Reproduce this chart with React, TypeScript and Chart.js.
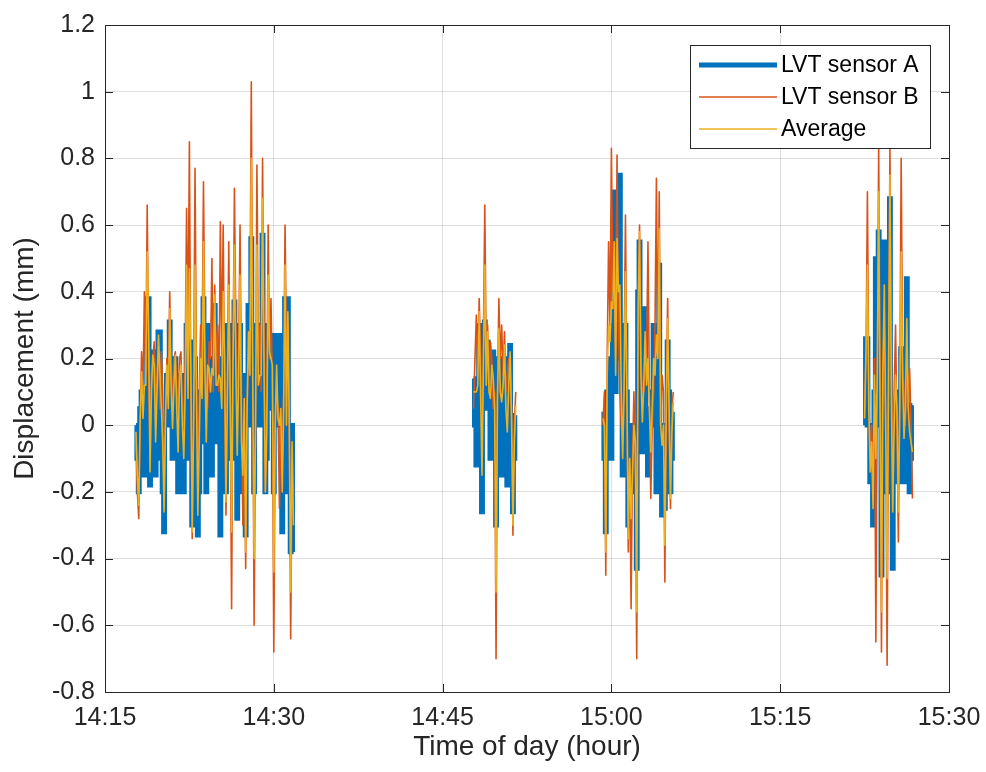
import React, { useEffect, useRef } from 'react';
import { Chart, registerables } from 'chart.js';

Chart.register(...registerables);

// Time axis: minutes after 14:15
const X_MIN = 0;
const X_MAX = 75;
const X_STEP = 15;
const X_TICK_LABELS = ['14:15', '14:30', '14:45', '15:00', '15:15', '15:30'];

const Y_MIN = -0.8;
const Y_MAX = 1.2;
const Y_STEP = 0.2;

// Sampling interval of the logger (minutes) and start of each recording burst
const SAMPLE_STEP_MIN = 0.125;
const burstStarts = [2.75, 32.75, 44.25, 67.5];

// Burst 1 (14:17:45 - 14:31:45)
const sensorA1 = [0.0, -0.1, -0.2, 0.05, 0.1, -0.05, -0.15, 0.1, 0.38, 0.38, -0.18, 0.05, 0.22, 0.1, -0.15, 0.05, 0.28, 0.28, -0.1, -0.2, -0.32, 0.0, 0.15, 0.0, 0.31, 0.1, -0.1, 0.05, 0.2, 0.0, -0.2, 0.1, 0.15, -0.05, -0.2, 0.0, 0.3, -0.1, 0.1, 0.25, -0.3, -0.1, 0.2, 0.05, -0.33, -0.2, 0.1, -0.05, 0.38, 0.1, -0.2, 0.3, 0.1, 0.0, -0.15, 0.2, 0.36, 0.1, -0.05, 0.2, -0.33, -0.1, 0.2, 0.3, -0.2, 0.0, 0.3, 0.15, -0.1, 0.2, 0.37, 0.05, -0.28, 0.1, 0.3, -0.2, 0.0, 0.15, -0.33, 0.05, 0.36, 0.0, 0.56, 0.1, -0.2, 0.0, 0.3, 0.05, 0.0, 0.2, 0.57, 0.1, -0.2, -0.1, 0.3, 0.25, 0.05, 0.27, -0.2, 0.0, 0.27, 0.0, 0.27, 0.1, -0.32, 0.0, 0.38, -0.2, 0.38, 0.0, -0.38, 0.0, -0.38];
const sensorB1 = [-0.05, -0.2, -0.28, 0.0, 0.22, 0.1, 0.4, 0.15, 0.66, 0.2, -0.1, 0.15, 0.2, 0.25, 0.05, 0.15, 0.26, 0.05, 0.22, 0.1, -0.2, 0.05, 0.2, 0.1, 0.4, 0.15, 0.08, 0.2, 0.22, 0.1, 0.05, 0.2, 0.22, 0.05, 0.0, 0.2, 0.65, 0.25, 0.85, 0.1, -0.34, 0.1, 0.77, 0.15, -0.2, 0.1, 0.3, 0.2, 0.73, 0.25, 0.1, 0.05, 0.25, 0.2, 0.5, 0.1, 0.42, 0.15, 0.3, 0.1, 0.61, 0.2, 0.6, 0.1, -0.27, 0.15, 0.55, 0.05, -0.55, 0.2, 0.71, 0.3, 0.1, 0.2, 0.6, 0.1, -0.3, 0.0, -0.43, 0.05, 0.2, 0.3, 1.03, 0.2, -0.6, 0.0, 0.78, 0.2, 0.3, 0.1, 0.8, 0.3, -0.2, 0.05, 0.6, 0.2, 0.38, 0.1, -0.68, 0.0, 0.1, 0.05, -0.25, 0.0, -0.1, 0.1, 0.6, 0.2, 0.3, 0.0, -0.64, -0.1, -0.2];
const average1 = [-0.02, -0.15, -0.24, 0.02, 0.16, 0.02, 0.12, 0.12, 0.52, 0.29, -0.14, 0.1, 0.21, 0.18, -0.05, 0.1, 0.27, 0.16, 0.06, -0.05, -0.26, 0.02, 0.18, 0.05, 0.35, 0.12, -0.01, 0.12, 0.21, 0.05, -0.08, 0.15, 0.18, 0.0, -0.1, 0.1, 0.48, 0.08, 0.47, 0.18, -0.32, 0.0, 0.48, 0.1, -0.27, -0.05, 0.2, 0.08, 0.55, 0.18, -0.05, 0.18, 0.17, 0.1, 0.17, 0.15, 0.39, 0.12, 0.12, 0.15, 0.14, 0.05, 0.4, 0.2, -0.23, 0.08, 0.42, 0.1, -0.32, 0.2, 0.54, 0.18, -0.09, 0.15, 0.45, -0.05, -0.15, 0.08, -0.38, 0.05, 0.28, 0.15, 0.8, 0.15, -0.4, 0.0, 0.54, 0.12, 0.15, 0.15, 0.68, 0.2, -0.2, -0.02, 0.45, 0.22, 0.2, 0.18, -0.44, 0.0, 0.18, 0.02, 0.0, 0.05, -0.2, 0.05, 0.48, 0.0, 0.34, 0.0, -0.5, -0.05, -0.3];

// Burst 2 (14:47:45 - 14:51:30)
const sensorA2 = [0.14, 0.0, -0.12, 0.1, 0.3, 0.0, -0.26, 0.1, 0.31, 0.05, 0.25, 0.1, -0.1, 0.15, 0.22, 0.0, -0.3, 0.05, 0.2, 0.0, -0.15, 0.1, 0.2, 0.0, -0.18, 0.05, 0.24, 0.0, -0.26, -0.1, 0.03];
const sensorB2 = [0.05, 0.2, 0.33, 0.15, 0.38, 0.2, -0.05, 0.25, 0.66, 0.2, 0.3, 0.1, 0.25, 0.2, 0.05, 0.1, -0.7, 0.1, 0.38, 0.2, 0.3, 0.15, 0.28, 0.1, 0.15, 0.2, 0.2, 0.05, -0.33, 0.0, 0.1];
const average2 = [0.1, 0.1, 0.1, 0.12, 0.34, 0.1, -0.15, 0.18, 0.48, 0.12, 0.28, 0.1, 0.08, 0.18, 0.14, 0.05, -0.5, 0.08, 0.29, 0.1, 0.07, 0.12, 0.24, 0.05, -0.02, 0.12, 0.22, 0.02, -0.3, -0.05, 0.06];

// Burst 3 (14:59:15 - 15:05:30)
const sensorA3 = [0.04, -0.1, -0.32, 0.1, 0.05, 0.2, -0.1, 0.3, 0.7, 0.1, 0.3, 0.5, 0.75, 0.2, -0.15, 0.0, 0.3, 0.1, -0.3, -0.1, 0.0, -0.2, -0.1, 0.0, -0.43, 0.4, 0.55, 0.1, -0.08, 0.15, 0.35, 0.05, -0.15, 0.0, 0.05, 0.1, 0.3, 0.0, -0.2, 0.2, 0.48, 0.0, -0.27, -0.1, -0.25, 0.0, 0.25, 0.1, -0.2, -0.1, 0.04];
const sensorB3 = [0.0, 0.1, -0.45, 0.2, 0.55, 0.3, 0.83, 0.4, 0.4, 0.2, 0.81, 0.3, 0.1, 0.0, -0.05, 0.2, 0.63, 0.1, -0.38, -0.1, -0.55, -0.1, 0.1, -0.1, -0.7, 0.3, 0.6, 0.2, 0.1, 0.1, 0.2, 0.2, 0.55, 0.1, -0.22, 0.0, 0.1, 0.3, 0.74, 0.2, 0.7, 0.0, 0.15, 0.1, -0.47, 0.1, 0.38, 0.0, -0.25, 0.05, 0.1];
const average3 = [0.02, 0.0, -0.38, 0.15, 0.3, 0.25, 0.37, 0.35, 0.55, 0.15, 0.56, 0.4, 0.42, 0.1, -0.1, 0.1, 0.46, 0.1, -0.34, -0.1, -0.28, -0.15, 0.0, -0.05, -0.56, 0.35, 0.58, 0.15, 0.01, 0.12, 0.28, 0.12, 0.2, 0.05, -0.08, 0.05, 0.2, 0.15, 0.27, 0.2, 0.59, 0.0, -0.06, 0.0, -0.36, 0.05, 0.32, 0.05, -0.22, -0.02, 0.07];

// Burst 4 (15:22:30 - 15:26:45)
const sensorA4 = [0.0, 0.26, 0.26, 0.0, -0.17, -0.1, -0.3, 0.1, 0.5, 0.2, 0.58, 0.0, -0.45, 0.1, 0.55, 0.0, -0.2, 0.2, 0.68, 0.0, -0.43, -0.1, 0.0, 0.1, -0.17, 0.0, 0.23, 0.1, -0.17, 0.1, 0.44, 0.0, -0.2, -0.1, 0.06];
const sensorB4 = [0.05, 0.2, 0.7, 0.1, -0.1, 0.0, -0.2, 0.2, -0.65, 0.1, 0.83, 0.1, -0.68, 0.2, 0.3, 0.0, -0.72, 0.1, 0.83, 0.2, -0.1, 0.1, 0.3, 0.0, -0.35, 0.1, 0.8, 0.2, 0.1, 0.0, 0.2, 0.1, 0.17, 0.0, -0.22];
const average4 = [0.02, 0.23, 0.48, 0.05, -0.14, -0.05, -0.25, 0.15, -0.1, 0.15, 0.7, 0.05, -0.56, 0.15, 0.42, 0.0, -0.46, 0.15, 0.75, 0.1, -0.26, 0.0, 0.15, 0.05, -0.26, 0.05, 0.52, 0.15, -0.04, 0.05, 0.32, 0.05, -0.02, -0.05, -0.08];

const SERIES_LABELS = ['LVT sensor A', 'LVT sensor B', 'Average'];
const COLOR_A = '#0072BD';
const COLOR_B = '#D95319';
const COLOR_AVG = '#EDB120';

const AXIS_COLOR = '#262626';
const FONT_FAMILY = '"Liberation Sans", Arial, Helvetica, sans-serif';

type Pt = { x: number; y: number | null };

// Join the bursts into one series; a null point between bursts breaks the line.
function buildSeries(bursts: number[][]): Pt[] {
  const pts: Pt[] = [];
  bursts.forEach((vals, b) => {
    if (b > 0) pts.push({ x: burstStarts[b] - SAMPLE_STEP_MIN / 2, y: null });
    vals.forEach((v, i) => pts.push({ x: burstStarts[b] + i * SAMPLE_STEP_MIN, y: v }));
  });
  return pts;
}

// Closed axes box with inward tick marks on all four sides
const axesBoxPlugin = {
  id: 'axesBox',
  afterDatasetsDraw(chart: any) {
    const { ctx, chartArea: a, scales } = chart;
    const tick = 8;
    ctx.save();
    ctx.strokeStyle = AXIS_COLOR;
    ctx.lineWidth = 1;
    ctx.beginPath();
    scales.x.ticks.forEach((t: any) => {
      const px = Math.round(scales.x.getPixelForValue(t.value)) + 0.5;
      ctx.moveTo(px, a.bottom);
      ctx.lineTo(px, a.bottom - tick);
      ctx.moveTo(px, a.top);
      ctx.lineTo(px, a.top + tick);
    });
    scales.y.ticks.forEach((t: any) => {
      const py = Math.round(scales.y.getPixelForValue(t.value)) + 0.5;
      ctx.moveTo(a.left, py);
      ctx.lineTo(a.left + tick, py);
      ctx.moveTo(a.right, py);
      ctx.lineTo(a.right - tick, py);
    });
    ctx.stroke();
    ctx.strokeRect(Math.round(a.left) + 0.5, Math.round(a.top) + 0.5, Math.round(a.right - a.left), Math.round(a.bottom - a.top));
    ctx.restore();
  },
};

// Boxed legend in the upper-right corner of the plot
const boxLegendPlugin = {
  id: 'boxLegend',
  afterDraw(chart: any) {
    const { ctx, chartArea: a } = chart;
    const boxW = 240;
    const boxH = 103;
    const x0 = a.right - 19 - boxW;
    const y0 = a.top + 20;
    ctx.save();
    ctx.fillStyle = '#ffffff';
    ctx.fillRect(x0, y0, boxW, boxH);
    ctx.strokeStyle = AXIS_COLOR;
    ctx.lineWidth = 1;
    ctx.strokeRect(Math.round(x0) + 0.5, Math.round(y0) + 0.5, boxW, boxH);
    ctx.font = `23px ${FONT_FAMILY}`;
    ctx.textBaseline = 'middle';
    ctx.textAlign = 'left';
    chart.data.datasets.forEach((ds: any, i: number) => {
      const cy = y0 + 20 + i * 32;
      ctx.strokeStyle = ds.borderColor;
      ctx.lineWidth = i === 0 ? 5 : 1.3;
      ctx.beginPath();
      ctx.moveTo(x0 + 9, cy);
      ctx.lineTo(x0 + 87, cy);
      ctx.stroke();
      ctx.fillStyle = '#000000';
      ctx.fillText(ds.label, x0 + 91, cy + 1);
    });
    ctx.restore();
  },
};

export default function App() {
  const canvasRef = useRef<HTMLCanvasElement | null>(null);

  useEffect(() => {
    if (!canvasRef.current) return;
    const chart = new Chart(canvasRef.current, {
      type: 'line',
      data: {
        datasets: [
          {
            label: SERIES_LABELS[0],
            data: buildSeries([sensorA1, sensorA2, sensorA3, sensorA4]),
            borderColor: COLOR_A,
            backgroundColor: COLOR_A,
            borderWidth: 4.5,
            stepped: 'middle',
            pointRadius: 0,
            spanGaps: false,
            order: 3,
          },
          {
            label: SERIES_LABELS[1],
            data: buildSeries([sensorB1, sensorB2, sensorB3, sensorB4]),
            borderColor: COLOR_B,
            backgroundColor: COLOR_B,
            borderWidth: 1.6,
            borderJoinStyle: 'round',
            pointRadius: 0,
            spanGaps: false,
            order: 2,
          },
          {
            label: SERIES_LABELS[2],
            data: buildSeries([average1, average2, average3, average4]),
            borderColor: COLOR_AVG,
            backgroundColor: COLOR_AVG,
            borderWidth: 1.6,
            borderJoinStyle: 'round',
            pointRadius: 0,
            spanGaps: false,
            order: 1,
          },
        ],
      },
      options: {
        responsive: false,
        animation: false,
        layout: { padding: { top: 25, right: 37, left: 0, bottom: 0 } },
        plugins: {
          legend: { display: false },
          tooltip: { enabled: false },
        },
        scales: {
          x: {
            type: 'linear',
            min: X_MIN,
            max: X_MAX,
            border: { display: false },
            grid: { color: 'rgba(38,38,38,0.15)', lineWidth: 1, drawTicks: false },
            ticks: {
              stepSize: X_STEP,
              autoSkip: false,
              maxRotation: 0,
              padding: 11,
              color: AXIS_COLOR,
              font: { family: FONT_FAMILY, size: 25 },
              callback: (v: any) => X_TICK_LABELS[Math.round((Number(v) - X_MIN) / X_STEP)] ?? '',
            },
            title: {
              display: true,
              text: 'Time of day (hour)',
              color: AXIS_COLOR,
              font: { family: FONT_FAMILY, size: 28 },
              padding: { top: 0, bottom: 8 },
            },
            afterFit: (scale: any) => {
              scale.height = 80;
              scale.paddingLeft = 0;
              scale.paddingRight = 0;
            },
          },
          y: {
            type: 'linear',
            min: Y_MIN,
            max: Y_MAX,
            border: { display: false },
            grid: { color: 'rgba(38,38,38,0.15)', lineWidth: 1, drawTicks: false },
            ticks: {
              stepSize: Y_STEP,
              autoSkip: false,
              padding: 10,
              color: AXIS_COLOR,
              font: { family: FONT_FAMILY, size: 25 },
              callback: (v: any) => String(Math.round(Number(v) * 10) / 10),
            },
            title: {
              display: true,
              text: 'Displacement (mm)',
              color: AXIS_COLOR,
              font: { family: FONT_FAMILY, size: 28 },
              padding: { top: 8, bottom: 0 },
            },
            afterFit: (scale: any) => {
              scale.width = 105;
            },
          },
        },
      },
      plugins: [axesBoxPlugin, boxLegendPlugin],
    });
    return () => chart.destroy();
  }, []);

  return (
    <div style={{ position: 'absolute', left: 0, top: 0, width: 986, height: 772, background: '#ffffff' }}>
      <canvas ref={canvasRef} width={986} height={772} style={{ display: 'block' }} />
    </div>
  );
}
